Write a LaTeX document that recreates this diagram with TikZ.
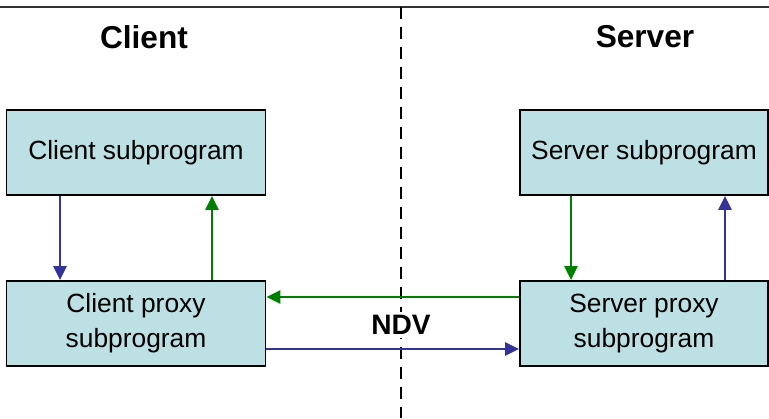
\documentclass[tikz,border=0pt]{standalone}
\usepackage{fontspec}
\setmainfont{Liberation Sans}
\usetikzlibrary{shapes,arrows.meta}
\definecolor{boxcyan}{RGB}{188,224,227}
\definecolor{flowblue}{RGB}{51,51,153}
\definecolor{flowgreen}{RGB}{0,128,0}
\tikzstyle{block} = [rectangle, draw, line width=1.1pt, fill=boxcyan,
    align=center, minimum height=1.7cm, inner sep=2pt, font=\fontsize{15}{20}\selectfont]
\tikzstyle{line} = [draw, line width=0.8pt, -{Triangle[length=0.28cm,width=0.27cm]}]
\tikzstyle{side} = [font=\bfseries\fontsize{18}{22}\selectfont]

\begin{document}
\begin{tikzpicture}
    \useasboundingbox (0,0) rectangle (15.38,8.36);
    % Place nodes
    \node [side] at (2.88,7.62) (clienttitle) {Client};
    \node [side] at (12.9,7.62) (servertitle) {Server};
    \node [block, minimum width=5.18cm] at (2.72,5.31) (clientsub) {Client subprogram};
    \node [block, minimum width=4.96cm] at (12.88,5.31) (serversub) {Server subprogram};
    \node [block, minimum width=5.18cm] at (2.72,1.89) (clientproxy) {Client proxy\\subprogram};
    \node [block, minimum width=4.96cm] at (12.88,1.89) (serverproxy) {Server proxy\\subprogram};
    % Draw border lines
    \draw [line width=0.8pt, black!80] (0,8.22) -- (15.38,8.22);
    \draw [line width=0.8pt, dash pattern=on 0.24cm off 0.16cm] (8.02,8.22) -- (8.02,0);
    \node [fill=white, inner sep=2pt, font=\bfseries\fontsize{16}{20}\selectfont] at (8.02,1.86) (ndv) {NDV};
    % Draw edges
    \path [line, flowblue] ([xshift=-1.52cm]clientsub.south) -- ([xshift=-1.52cm]clientproxy.north);
    \path [line, flowgreen] ([xshift=1.52cm]clientproxy.north) -- ([xshift=1.52cm]clientsub.south);
    \path [line, flowgreen] ([xshift=-1.46cm]serversub.south) -- ([xshift=-1.46cm]serverproxy.north);
    \path [line, flowblue] ([xshift=1.62cm]serverproxy.north) -- ([xshift=1.62cm]serversub.south);
    \path [line, flowgreen] ([yshift=0.53cm]serverproxy.west) -- ([yshift=0.53cm]clientproxy.east);
    \path [line, flowblue] ([yshift=-0.51cm]clientproxy.east) -- ([yshift=-0.51cm]serverproxy.west);
\end{tikzpicture}
\end{document}
